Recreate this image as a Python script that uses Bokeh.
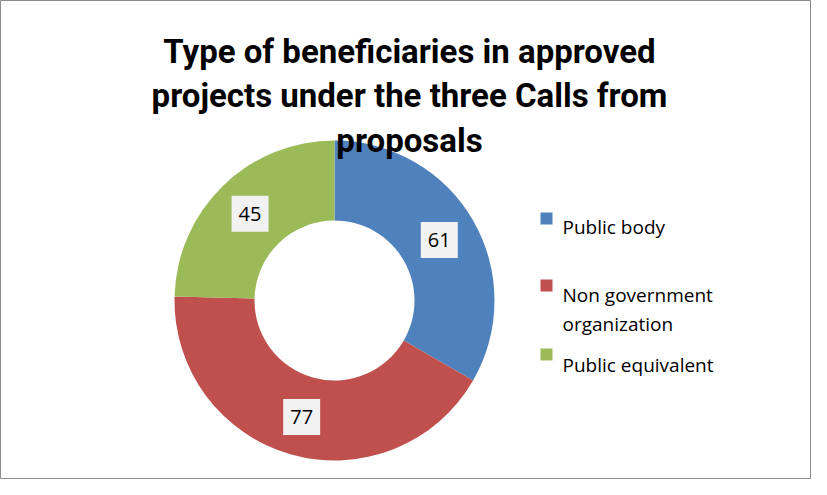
import numpy as np
from bokeh.plotting import figure
from bokeh.models import Range1d, ColumnDataSource
from bokeh.core.properties import value
from bokeh.embed import file_html
from bokeh.resources import INLINE

# ---- data ----
title_lines = ["Type of beneficiaries in approved",
               "projects under the three Calls from",
               "proposals"]
categories = ["Public body", "Non government organization", "Public equivalent"]
legend_lines = [["Public body"], ["Non government", "organization"], ["Public equivalent"]]
values = [61, 77, 45]
colors = ["#4f81bd", "#c0504d", "#9bbb59"]

# ---- layout (pixel space) ----
W, H = 811, 479
def sx(x):
    return x - 8
def sy(y):
    return 487 - y

p = figure(width=W, height=H, x_range=Range1d(0, W), y_range=Range1d(0, H),
           output_backend="svg", toolbar_location=None, min_border=0,
           x_axis_type=None, y_axis_type=None)
p.grid.visible = False
p.outline_line_color = "#8c8c8c"
p.outline_line_width = 1
p.background_fill_color = "white"
p.border_fill_color = "white"

cx, cy = sx(342), sy(308)
r_out, r_in = 160, 80

vals = np.array(values, dtype=float)
total = vals.sum()
cum = np.concatenate([[0], np.cumsum(vals)])
start = np.pi / 2 - cum[:-1] / total * 2 * np.pi
end = np.pi / 2 - cum[1:] / total * 2 * np.pi
mid = (start + end) / 2

src = ColumnDataSource(dict(start=start, end=end, color=colors, cat=categories))
p.annular_wedge(x=cx, y=cy, inner_radius=r_in, outer_radius=r_out,
                start_angle="start", end_angle="end", direction="clock",
                fill_color="color", line_color=None, source=src)

# data labels
r_lab = 121
lx = cx + r_lab * np.cos(mid)
ly = cy + r_lab * np.sin(mid)
p.rect(x=lx, y=ly, width=37, height=36, width_units="screen", height_units="screen",
       fill_color="#f2f2f2", line_color=None)
p.text(x=lx, y=ly, text=[str(v) for v in values], text_align="center",
       text_baseline="middle", text_font=value("Open Sans"),
       text_font_size=value("20px"), text_color="#000000")

# title
p.text(x=[sx(417)] * len(title_lines), y=[sy(59), sy(103), sy(148)][:len(title_lines)],
       text=title_lines, text_align="center", text_baseline="alphabetic",
       text_font=value("Roboto"), text_font_style="bold",
       text_font_size=value("33px"), text_color="#000000")

# legend
sq_y = [sy(226), sy(293), sy(362)]
p.rect(x=[sx(554)] * 3, y=sq_y, width=12, height=12, width_units="screen",
       height_units="screen", fill_color=colors, line_color=None)
txt_x, txt_y, txt = [], [], []
base = [234, 302, 372]
for i, lines in enumerate(legend_lines):
    for j, ln in enumerate(lines):
        txt_x.append(sx(570))
        txt_y.append(sy(base[i] + 29 * j))
        txt.append(ln)
p.text(x=txt_x, y=txt_y, text=txt, text_align="left", text_baseline="alphabetic",
       text_font=value("Open Sans"), text_font_size=value("19px"), text_color="#000000")

open("out.html", "w").write(file_html(p, INLINE))
